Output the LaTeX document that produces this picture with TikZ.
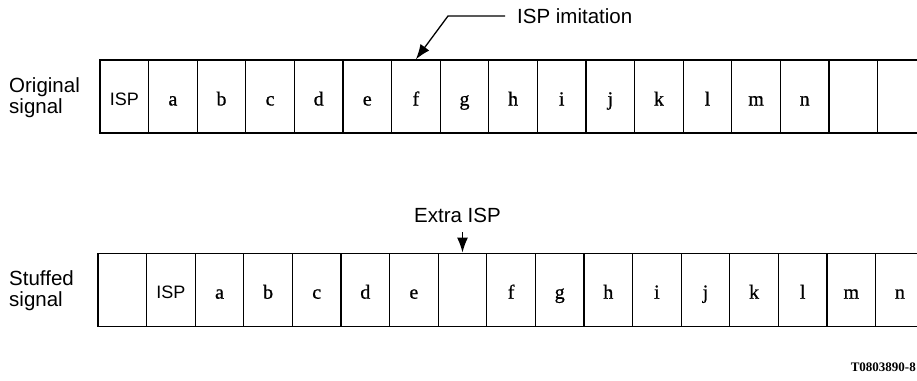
\documentclass[tikz,border=0pt]{standalone}
\usepackage{fontspec}
\setmainfont{Liberation Serif}
\setsansfont{Liberation Sans}
\newfontfamily\cellfont[FakeBold=0.8]{Liberation Serif}
\usetikzlibrary{arrows.meta}

% sans-serif "ISP" used inside the cells
\newcommand\ispcell{{\sffamily\fontsize{18}{21}\selectfont ISP}}

\begin{document}
\begin{tikzpicture}[x=1pt,y=-1pt,
  cell/.style={draw, line width=1.3pt, minimum width=48.6pt, minimum height=73pt,
    inner sep=0pt, text height=18pt, text depth=0pt,
    font=\cellfont\fontsize{20}{22}\selectfont},
  lbl/.style={font=\sffamily\fontsize{20.5}{21}\selectfont, align=left, inner sep=0pt},
  ptr/.style={line width=1.3pt, -{Latex[length=15pt,width=11pt]}}]

\useasboundingbox (0,0) rectangle (917,380);
\clip (0,0) rectangle (917,380);

% original signal: ISP, a..n, then two empty cells running off the right edge
\foreach \t [count=\i from 0] in {\ispcell,a,b,c,d,e,f,g,h,i,j,k,l,m,n,{},{}}
  \node[cell] (o\i) at ({100+48.6*\i+24.3},96.5) {\t};

% stuffed signal: empty cell, ISP, a..e, extra cell, f..n
\foreach \t [count=\i from 0] in {{},\ispcell,a,b,c,d,e,{},f,g,h,i,j,k,l,m,n}
  \node[cell] (s\i) at ({98+48.6*\i+24.3},289.7) {\t};

% row labels
\node[lbl, anchor=west] (orig) at (9,97.5) {Original\\signal};
\node[lbl, anchor=west] (stuf) at (9,290.5) {Stuffed\\signal};

% ISP imitation pointer
\node[lbl, anchor=west] (imit) at (517,16) {ISP imitation};
\coordinate (bend) at (448,16);
\draw[ptr] ([xshift=-12pt]imit.west) -- (bend) -- (o6.north);

% extra ISP pointer
\node[lbl] (extra) at (457.5,215) {Extra ISP};
\draw[ptr, shorten <=10pt] (extra.south -| s7.north) -- (s7.north);

% figure code
\node[anchor=east, inner sep=0pt, font=\bfseries\fontsize{13}{15}\selectfont] (code)
  at (916,367.5) {T0803890-8};
\end{tikzpicture}
\end{document}
